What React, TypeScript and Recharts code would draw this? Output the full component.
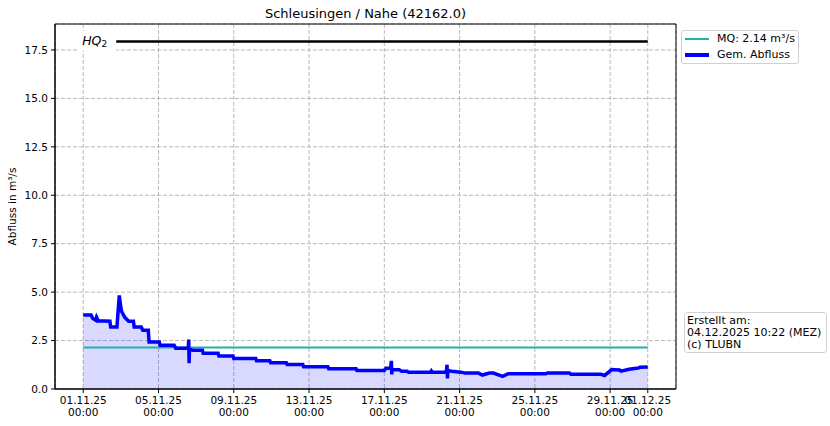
import React from 'react'
import {
  ComposedChart,
  Area,
  Line,
  XAxis,
  YAxis,
  CartesianGrid,
  ReferenceLine,
  ReferenceArea,
} from 'recharts'

// hours since 01.11.25 00:00
const flowHours = [
  0, 10, 12, 16, 17, 19, 34, 35, 43, 46, 48, 49, 53, 58, 64, 65, 74, 76, 83, 84,
  97, 98, 116, 118, 134, 134.5, 135, 135.5, 140, 152, 153, 172, 173, 191, 192, 220,
  221, 238, 239, 259, 260, 280, 281, 312, 313, 348, 349, 384, 386, 392, 393, 393.5,
  394, 403, 406, 413, 415, 443, 444, 445, 463, 464, 464.5, 465, 470, 482, 487, 504,
  509, 518, 523, 535, 542, 590, 592, 620, 622, 660, 665, 674, 684, 686, 696, 708,
  710, 720,
]
const flowValues = [
  3.82, 3.82, 3.65, 3.55, 3.7, 3.52, 3.5, 3.2, 3.2, 4.83, 4.2, 4.0, 3.7, 3.5, 3.5, 3.2,
  3.2, 3.03, 3.03, 2.42, 2.42, 2.26, 2.26, 2.1, 2.1, 2.55, 1.33, 2.05, 2.0, 2.0, 1.84,
  1.84, 1.7, 1.7, 1.58, 1.58, 1.46, 1.46, 1.36, 1.36, 1.26, 1.26, 1.15, 1.15, 1.05,
  1.05, 0.96, 0.96, 1.07, 1.07, 1.45, 0.75, 1.0, 1.0, 0.92, 0.92, 0.87, 0.87, 0.93,
  0.87, 0.87, 1.25, 0.55, 0.95, 0.92, 0.87, 0.82, 0.82, 0.72, 0.82, 0.82, 0.65, 0.79,
  0.79, 0.83, 0.83, 0.76, 0.76, 0.7, 1.0, 0.98, 0.92, 1.02, 1.08, 1.12, 1.14,
]

const MQ = 2.14
const HQ2 = 17.94
const PERIOD_END = 720

const tickHours = [0, 96, 192, 288, 384, 480, 576, 672, 720]
const tickDates = [
  '01.11.25', '05.11.25', '09.11.25', '13.11.25', '17.11.25',
  '21.11.25', '25.11.25', '29.11.25', '01.12.25',
]
const yTicks = [0, 2.5, 5, 7.5, 10, 12.5, 15, 17.5]

const flowData = flowHours.map((t, i) => ({ t, q: flowValues[i] }))
const mqData = [
  { t: 0, q: MQ },
  { t: PERIOD_END, q: MQ },
]

const X_DOMAIN = [-36, 756]
const Y_MAX = 18.84
const FONT = '"DejaVu Sans", sans-serif'

function DateTick(props: any) {
  const { x, y, payload } = props
  const label = tickDates[tickHours.indexOf(payload.value)]
  return (
    <text x={x} y={y} textAnchor="middle" fontSize={10.5} fill="#000" fontFamily={FONT}>
      <tspan x={x} dy={9}>{label}</tspan>
      <tspan x={x} dy={11.7}>00:00</tspan>
    </text>
  )
}

function HqLabel(props: any) {
  const vb = props.viewBox || { x: 83, y: 41.7 }
  return (
    <g>
      <rect x={vb.x - 6} y={vb.y - 10.5} width={39} height={20} fill="#fff" />
      <text x={vb.x - 1} y={vb.y + 3.5} fontSize={12.5} fontStyle="italic" fontFamily={FONT} fill="#000">
        HQ
        <tspan fontSize={9} dy={2.5} fontStyle="normal">2</tspan>
      </text>
    </g>
  )
}

function LegendBox() {
  const row = (color: string, width: number, text: string) => (
    <div style={{ display: 'flex', alignItems: 'center', height: 16 }}>
      <div style={{ width: 24, height: width, background: color, marginLeft: 2, marginRight: 8 }} />
      <span>{text}</span>
    </div>
  )
  return (
    <div
      style={{
        position: 'absolute',
        left: 681,
        top: 30,
        boxSizing: 'border-box',
        height: 34,
        border: '1px solid #d0d0d0',
        borderRadius: 3,
        background: '#fff',
        padding: '0px 3px 0px 1px',
        fontFamily: FONT,
        fontSize: 11,
        lineHeight: '16px',
        color: '#000',
        width: 118,
      }}
    >
      {row('#20b2aa', 2, 'MQ: 2.14 m³/s')}
      {row('#0000ff', 3.5, 'Gem. Abfluss')}
    </div>
  )
}

export default function App() {
  return (
    <div style={{ position: 'absolute', left: 0, top: 0, width: 830, height: 426, background: '#fff' }}>
      <ComposedChart
        width={830}
        height={426}
        data={flowData}
        margin={{ top: 24, right: 154, left: 0, bottom: 0 }}
      >
        <CartesianGrid stroke="#b8b8b8" strokeDasharray="4 2" />
        <XAxis
          type="number"
          dataKey="t"
          domain={X_DOMAIN}
          ticks={tickHours}
          allowDataOverflow
          height={37}
          tickSize={4}
          tickMargin={2}
          tick={<DateTick />}
          stroke="#000"
          tickLine={{ stroke: '#000' }}
          axisLine={{ stroke: '#000' }}
        />
        <YAxis
          type="number"
          domain={[0, Y_MAX]}
          ticks={yTicks}
          allowDataOverflow
          width={55}
          tickSize={4}
          tickMargin={3}
          tickFormatter={(v: number) => v.toFixed(1)}
          tick={{ fill: '#000', fontSize: 10.5, fontFamily: FONT }}
          tickLine={{ stroke: '#000' }}
          axisLine={{ stroke: '#000' }}
        />
        <Area
          type="linear"
          dataKey="q"
          stroke="none"
          fill="#0000ff"
          fillOpacity={0.15}
          isAnimationActive={false}
          legendType="none"
        />
        <Line
          data={mqData}
          type="linear"
          dataKey="q"
          name="MQ: 2.14 m³/s"
          stroke="#20b2aa"
          strokeWidth={2}
          dot={false}
          activeDot={false}
          isAnimationActive={false}
        />
        <Line
          type="linear"
          dataKey="q"
          name="Gem. Abfluss"
          stroke="#0000ff"
          strokeWidth={3.5}
          dot={false}
          activeDot={false}
          isAnimationActive={false}
        />
        <ReferenceLine
          segment={[
            { x: 0, y: HQ2 },
            { x: PERIOD_END, y: HQ2 },
          ]}
          stroke="#000"
          strokeWidth={2.5}
          label={<HqLabel />}
        />
        <ReferenceArea x1={X_DOMAIN[0]} x2={X_DOMAIN[1]} y1={0} y2={Y_MAX} fill="none" stroke="#000" strokeWidth={1} />
      </ComposedChart>
      <LegendBox />
      <svg
        width={830}
        height={426}
        style={{ position: 'absolute', left: 0, top: 0, pointerEvents: 'none' }}
        fontFamily={FONT}
      >
        <text x={365.5} y={18} textAnchor="middle" fontSize={13} fill="#000">
          Schleusingen / Nahe (42162.0)
        </text>
        <text x={16} y={206.5} textAnchor="middle" fontSize={10.5} fill="#000" transform="rotate(-90 16 206.5)">
          Abfluss in m³/s
        </text>
        <rect x={684.5} y={312.5} width={142} height={40} rx={3} fill="#fff" stroke="#d0d0d0" />
        <text fontSize={11} fill="#000">
          <tspan x={687} y={324.3}>Erstellt am:</tspan>
          <tspan x={687} y={336}>04.12.2025 10:22 (MEZ)</tspan>
          <tspan x={687} y={347.7}>(c) TLUBN</tspan>
        </text>
      </svg>
    </div>
  )
}
